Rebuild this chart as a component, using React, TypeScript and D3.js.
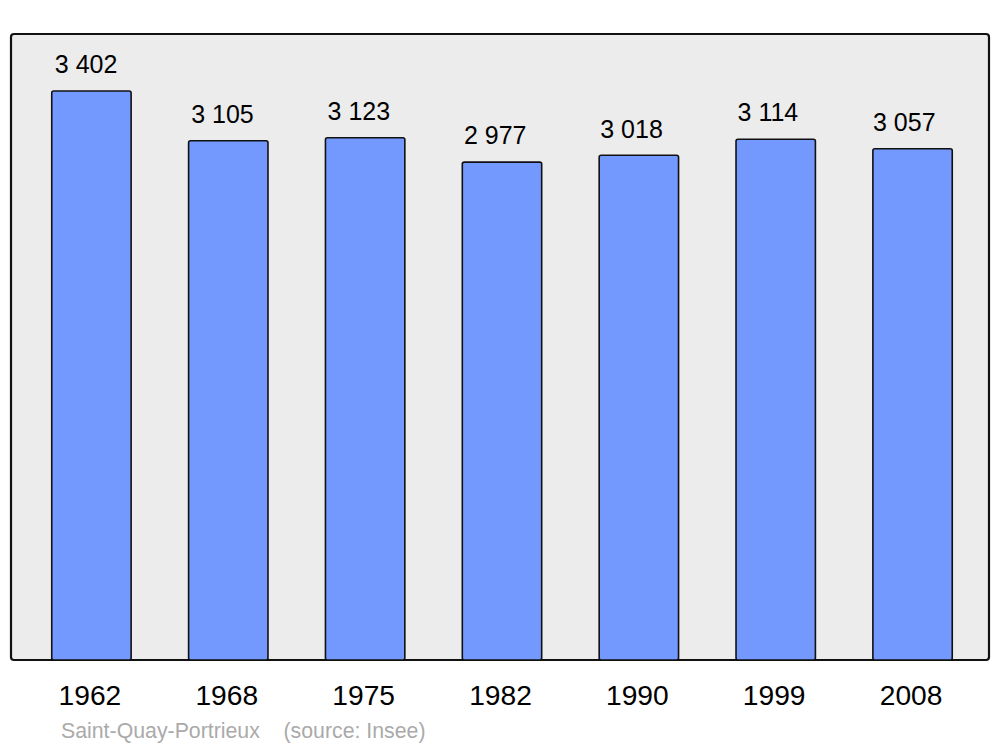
import React from "react";
import * as d3 from "d3";

const years = ["1962", "1968", "1975", "1982", "1990", "1999", "2008"];
const population = [3402, 3105, 3123, 2977, 3018, 3114, 3057];
const valueLabels = ["3 402", "3 105", "3 123", "2 977", "3 018", "3 114", "3 057"];
const caption = "Saint-Quay-Portrieux    (source: Insee)";

const W = 1000;
const H = 747;

export default function App() {
  const x = d3.scaleBand<string>().domain(years).range([23, 981]).paddingInner(0.42).paddingOuter(0.21);
  const y = d3.scaleLinear().domain([0, 3743]).range([660, 34]);
  const font = "'Liberation Sans', Arial, sans-serif";
  return (
    <svg width={W} height={H} style={{ position: "absolute", left: 0, top: 0 }} fontFamily={font}>
      <rect x={0} y={0} width={W} height={H} fill="#ffffff" />
      <rect x={11} y={34} width={978} height={626} rx={3} fill="#ececec" stroke="#111" strokeWidth={2.2} />
      {years.map((yr, i) => {
        const bx = x(yr)!;
        const bw = x.bandwidth();
        const top = y(population[i]);
        const cx = bx + bw / 2;
        return (
          <g key={yr}>
            <rect x={bx} y={top} width={bw} height={y(0) - top} rx={2} fill="#7399ff" stroke="#111" strokeWidth={1.6} />
            <text x={cx - 5.3 - 0.5 * i} y={top - 17.7} textAnchor="middle" fontSize={25} fill="#000">
              {valueLabels[i]}
            </text>
            <text x={cx - 1.5} y={705} textAnchor="middle" fontSize={28.2} fill="#000">
              {yr}
            </text>
          </g>
        );
      })}
      <text x={61} y={737.5} fontSize={21.3} fill="#aaaaaa" style={{ whiteSpace: "pre" }} xmlSpace="preserve">
        {caption}
      </text>
    </svg>
  );
}
